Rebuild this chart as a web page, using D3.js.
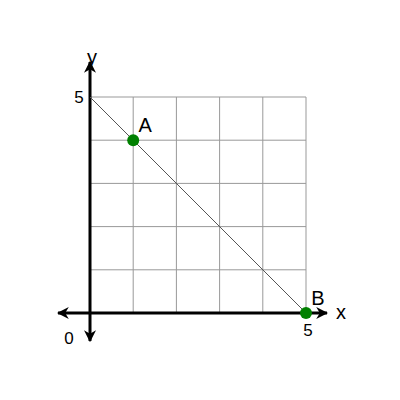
<!DOCTYPE html>
<html><head><meta charset="utf-8">
<script src="https://cdn.jsdelivr.net/npm/d3@7"></script>
<style>body{margin:0;background:#fff}</style>
</head><body><div id="chart"></div>
<script>
// data
const gridTicks = [0, 1, 2, 3, 4, 5];
const lineData = [[0, 5], [5, 0]];
const points = [{name: "A", x: 1, y: 4}, {name: "B", x: 5, y: 0}];

const width = 400, height = 400;
const x = d3.scaleLinear().domain([0, 5]).range([90, 306]);
const y = d3.scaleLinear().domain([0, 5]).range([313, 97]);

const svg = d3.select("#chart").append("svg")
  .attr("width", width).attr("height", height)
  .style("font-family", "Arial, 'Liberation Sans', sans-serif");

const defs = svg.append("defs");
defs.append("marker").attr("id", "arr")
  .attr("viewBox", "0 0 10 10").attr("refX", 9).attr("refY", 5)
  .attr("markerWidth", 4).attr("markerHeight", 4).attr("orient", "auto-start-reverse")
  .attr("markerUnits", "strokeWidth")
  .append("path").attr("d", "M0,0 L10,5 L0,10 L3,5 Z").attr("fill", "#000");

// grid
const g = svg.append("g").attr("stroke", "#999").attr("stroke-width", 1);
g.selectAll(".v").data(gridTicks).enter().append("line")
  .attr("x1", d => x(d)).attr("x2", d => x(d)).attr("y1", y(0)).attr("y2", y(5));
g.selectAll(".h").data(gridTicks).enter().append("line")
  .attr("y1", d => y(d)).attr("y2", d => y(d)).attr("x1", x(0)).attr("x2", x(5));

// axes
svg.append("line").attr("x1", 58).attr("x2", 327).attr("y1", y(0)).attr("y2", y(0))
  .attr("stroke", "#000").attr("stroke-width", 3)
  .attr("marker-start", "url(#arr)").attr("marker-end", "url(#arr)");
svg.append("line").attr("x1", x(0)).attr("x2", x(0)).attr("y1", 341).attr("y2", 62)
  .attr("stroke", "#000").attr("stroke-width", 3)
  .attr("marker-start", "url(#arr)").attr("marker-end", "url(#arr)");

// line
svg.append("path").datum(lineData)
  .attr("d", d3.line().x(d => x(d[0])).y(d => y(d[1])))
  .attr("stroke", "#555").attr("stroke-width", 1).attr("fill", "none");

// points
svg.selectAll(".pt").data(points).enter().append("circle")
  .attr("cx", d => x(d.x)).attr("cy", d => y(d.y)).attr("r", 6)
  .attr("fill", "#008000");
svg.selectAll(".pl").data(points).enter().append("text")
  .attr("x", d => x(d.x) + 12).attr("y", d => y(d.y) - 8)
  .attr("text-anchor", "middle").attr("font-size", 20).text(d => d.name);

// labels
const lab = (t, px, py) => svg.append("text").attr("x", px).attr("y", py)
  .attr("text-anchor", "middle").attr("font-size", 17).text(t);
lab("5", 79, 103);
lab("5", 308, 336);
lab("0", 69, 344);
lab("y", 92, 64).attr("font-size", 20);
lab("x", 341, 319).attr("font-size", 20);
</script></body></html>
